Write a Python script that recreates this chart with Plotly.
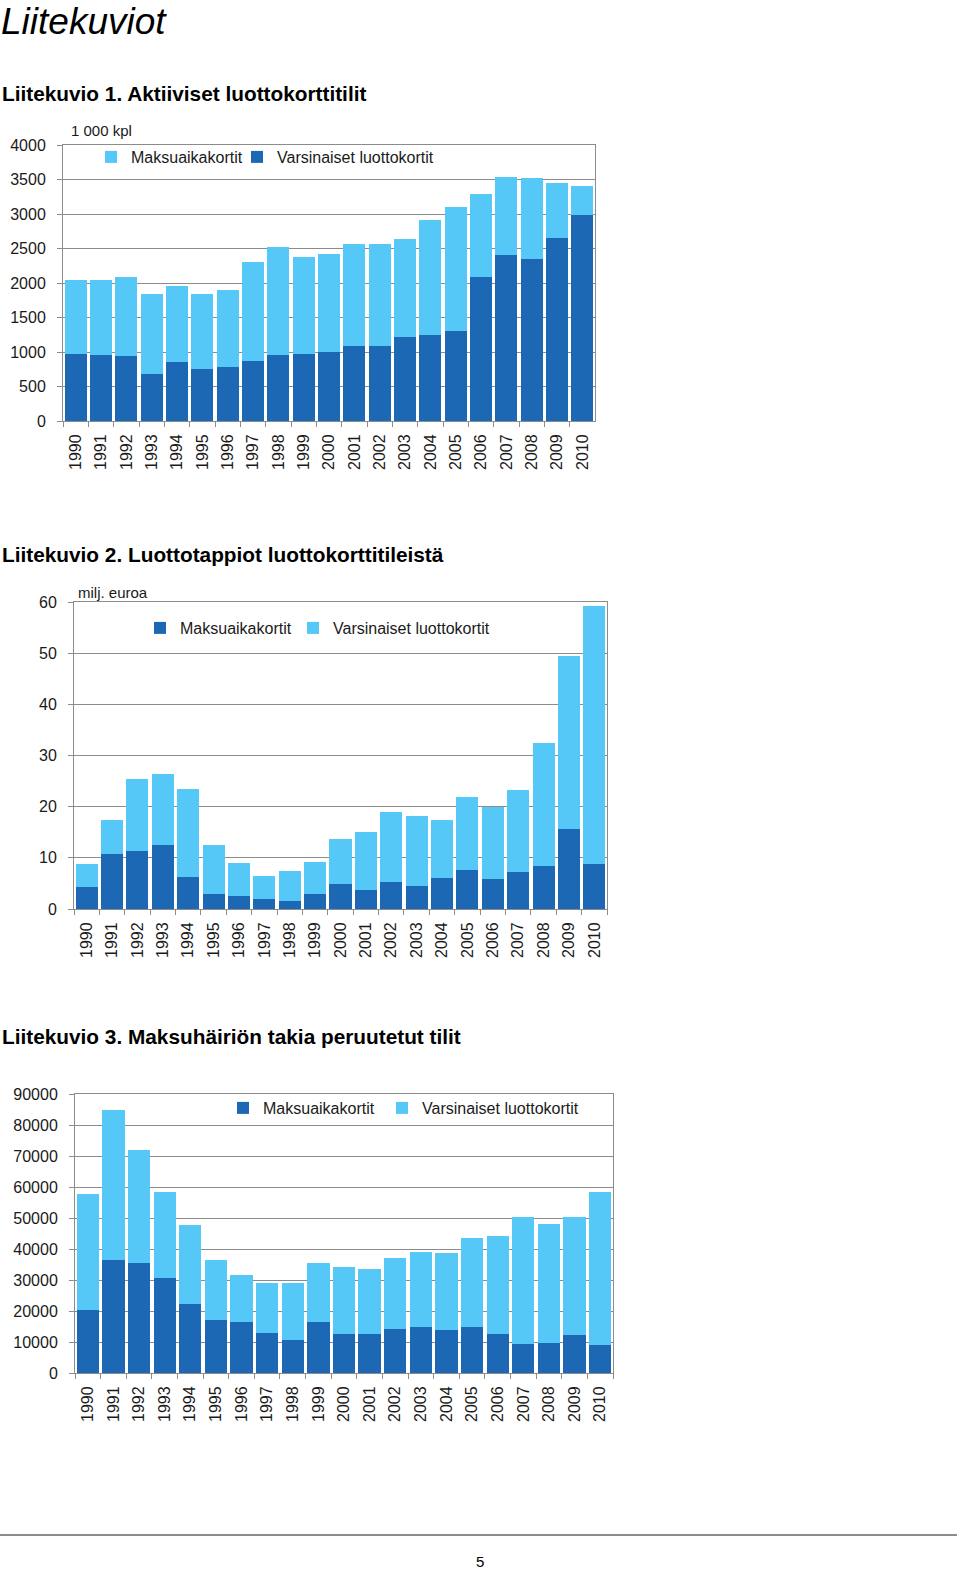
import plotly.graph_objects as go

W, H = 960, 1572

years = [str(y) for y in range(1990, 2011)]

# Chart 1: Aktiiviset luottokorttitilit (1 000 kpl) - totals and Varsinaiset
c1_varsinaiset = [976, 962, 938, 688, 851, 760, 784, 870, 962, 976, 995, 1082, 1087, 1212, 1250, 1303, 2082, 2404, 2346, 2659, 2981]
c1_total = [2043, 2043, 2082, 1841, 1952, 1841, 1899, 2298, 2524, 2380, 2418, 2563, 2563, 2635, 2909, 3101, 3284, 3534, 3519, 3452, 3409]
c1_maksuaika = [t - v for t, v in zip(c1_total, c1_varsinaiset)]

# Chart 2: Luottotappiot (milj. euroa)
c2_maksuaika = [4.3, 10.8, 11.3, 12.6, 6.2, 2.85, 2.5, 1.9, 1.6, 2.85, 4.8, 3.8, 5.25, 4.5, 6.0, 7.7, 5.8, 7.3, 8.4, 15.7, 8.7]
c2_total = [8.7, 17.4, 25.4, 26.4, 23.4, 12.6, 8.9, 6.4, 7.45, 9.2, 13.7, 15.0, 18.9, 18.1, 17.4, 21.8, 20.0, 23.3, 32.5, 49.5, 59.2]
c2_varsinaiset = [round(t - m, 2) for t, m in zip(c2_total, c2_maksuaika)]

# Chart 3: Maksuhäiriön takia peruutetut tilit
c3_maksuaika = [20200, 36600, 35500, 30700, 22200, 17000, 16500, 13000, 10600, 16500, 12600, 12600, 14100, 14700, 13800, 14700, 12600, 9300, 9800, 12200, 9000]
c3_total = [57600, 85000, 71800, 58400, 47600, 36400, 31500, 29100, 29100, 35500, 34200, 33500, 37100, 39100, 38800, 43600, 44300, 50200, 48000, 50200, 58400]
c3_varsinaiset = [t - m for t, m in zip(c3_total, c3_maksuaika)]

DARK = "#1c68b4"
LIGHT = "#56c8f8"
GRID = "#8c8c8c"
FONT = "Liberation Sans"
TXT = "#1a1a1a"


def px(x):
    return x / W


def py(y):
    return 1 - y / H


fig = go.Figure()

# chart 1 (dark bottom = Varsinaiset, light top = Maksuaikakortit)
fig.add_trace(go.Bar(x=years, y=c1_varsinaiset, name="Varsinaiset luottokortit", marker_color=DARK,
                     xaxis="x", yaxis="y", legend="legend2"))
fig.add_trace(go.Bar(x=years, y=c1_maksuaika, name="Maksuaikakortit", marker_color=LIGHT,
                     xaxis="x", yaxis="y", legend="legend"))
# chart 2
fig.add_trace(go.Bar(x=years, y=c2_maksuaika, name="Maksuaikakortit", marker_color=DARK,
                     xaxis="x2", yaxis="y2", legend="legend3"))
fig.add_trace(go.Bar(x=years, y=c2_varsinaiset, name="Varsinaiset luottokortit", marker_color=LIGHT,
                     xaxis="x2", yaxis="y2", legend="legend4"))
# chart 3
fig.add_trace(go.Bar(x=years, y=c3_maksuaika, name="Maksuaikakortit", marker_color=DARK,
                     xaxis="x3", yaxis="y3", legend="legend5"))
fig.add_trace(go.Bar(x=years, y=c3_varsinaiset, name="Varsinaiset luottokortit", marker_color=LIGHT,
                     xaxis="x3", yaxis="y3", legend="legend6"))

fig.update_traces(marker_line_width=0, hoverinfo="skip")

common_x = dict(type="category", showline=True, mirror=True, linecolor=GRID, linewidth=1,
                ticks="outside", tickson="boundaries", ticklen=5, tickcolor=GRID,
                tickangle=-90, tickfont=dict(family=FONT, size=16, color=TXT),
                ticklabelstandoff=6, showgrid=False, fixedrange=True, automargin=False)
common_y = dict(showline=True, mirror=True, linecolor=GRID, linewidth=1,
                ticks="outside", ticklen=5, tickcolor=GRID, showgrid=True, gridcolor=GRID,
                gridwidth=1, zeroline=False, tickfont=dict(family=FONT, size=16, color=TXT),
                ticklabelstandoff=8, fixedrange=True, automargin=False, tickformat="d")

layout = dict(
    width=W, height=H, margin=dict(l=0, r=0, t=0, b=0, pad=0, autoexpand=False),
    paper_bgcolor="white", plot_bgcolor="white",
    barmode="stack", bargap=0.13, showlegend=True,
    xaxis=dict(common_x, domain=[px(63), px(595)], anchor="y"),
    yaxis=dict(common_y, domain=[py(421), py(145)], range=[0, 4000], dtick=500, anchor="x"),
    xaxis2=dict(common_x, domain=[px(74), px(607)], anchor="y2"),
    yaxis2=dict(common_y, domain=[py(909), py(602)], range=[0, 60], dtick=10, anchor="x2"),
    xaxis3=dict(common_x, domain=[px(75), px(613)], anchor="y3"),
    yaxis3=dict(common_y, domain=[py(1373), py(1094)], range=[0, 90000], dtick=10000, anchor="x3"),
)

leg_common = dict(orientation="h", xanchor="left", yanchor="middle", bgcolor="rgba(0,0,0,0)",
                  font=dict(family=FONT, size=16, color=TXT),
                  itemclick=False, itemdoubleclick=False)
# (legend id, text start x px, centre y px)
leg_pos = [("legend", 131, 157), ("legend2", 277, 157),
           ("legend3", 180, 628), ("legend4", 333, 628),
           ("legend5", 263, 1108), ("legend6", 422, 1108)]
for lid, tx, ty in leg_pos:
    layout[lid] = dict(leg_common, x=px(tx - 40), y=py(ty))

fig.update_layout(**layout)

annots = [
    dict(text="<b>Liitekuvio 1. Aktiiviset luottokorttitilit</b>", y=py(93)),
    dict(text="<b>Liitekuvio 2. Luottotappiot luottokorttitileistä</b>", y=py(554)),
    dict(text="<b>Liitekuvio 3. Maksuhäiriön takia peruutetut tilit</b>", y=py(1036)),
]
fig.add_annotation(text="<i>Liitekuviot</i>", x=0, y=1, xref="paper", yref="paper",
                   xanchor="left", yanchor="top", showarrow=False, borderpad=0,
                   font=dict(family=FONT, size=37, color="black"))
for a in annots:
    fig.add_annotation(text=a["text"], x=0, y=a["y"], xref="paper", yref="paper",
                       xanchor="left", yanchor="middle", showarrow=False,
                       font=dict(family=FONT, size=20.8, color="black"))

fig.add_annotation(text="1 000 kpl", x=px(69), y=py(130), xref="paper", yref="paper",
                   xanchor="left", yanchor="middle", showarrow=False,
                   font=dict(family=FONT, size=15, color=TXT))
fig.add_annotation(text="milj. euroa", x=px(76), y=py(592), xref="paper", yref="paper",
                   xanchor="left", yanchor="middle", showarrow=False,
                   font=dict(family=FONT, size=15, color=TXT))
fig.add_annotation(text="5", x=px(480), y=py(1561), xref="paper", yref="paper",
                   xanchor="center", yanchor="middle", showarrow=False,
                   font=dict(family=FONT, size=15, color="black"))

fig.add_shape(type="line", xref="paper", yref="paper", x0=0, x1=px(957), y0=py(1535), y1=py(1535),
              line=dict(color="#8c8c8c", width=2))

fig.write_html("out.html", config={"displayModeBar": False},
               post_script="document.body.style.margin='0';")
